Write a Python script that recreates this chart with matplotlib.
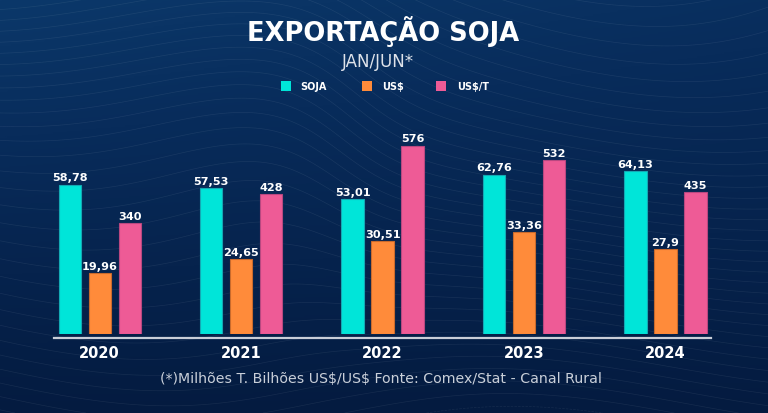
import numpy as np
import matplotlib
matplotlib.use("Agg")
import matplotlib.pyplot as plt
from matplotlib.colors import LinearSegmentedColormap
from matplotlib.lines import Line2D
from matplotlib.patches import Rectangle

# ---- data ----
years = ["2020", "2021", "2022", "2023", "2024"]
soja = [58.78, 57.53, 53.01, 62.76, 64.13]          # milhões t
usd = [19.96, 24.65, 30.51, 33.36, 27.9]            # bilhões US$
usd_t = [340, 428, 576, 532, 435]                   # US$/t
soja_lbl = ["58,78", "57,53", "53,01", "62,76", "64,13"]
usd_lbl = ["19,96", "24,65", "30,51", "33,36", "27,9"]
usdt_lbl = ["340", "428", "576", "532", "435"]
series_names = ["SOJA", "US\\$", "US\\$/T"]

C_SOJA = "#00e5d9"
C_USD = "#ff8b3a"
C_USDT = "#ee5b96"
E_SOJA = "#14a9b4"
E_USD = "#c96a2c"
E_USDT = "#b84880"
FONT = "DejaVu Sans"

W, H = 768, 414
fig = plt.figure(figsize=(W / 100, H / 100), dpi=100)

def fy(px):
    return 1 - px / H

def fx(px):
    return px / W

# ---- background ----
bg = fig.add_axes([0, 0, 1, 1], zorder=0)
bg.set_axis_off()
yy, xx = np.mgrid[0:1:300j, 0:1:500j]
shade = 0.6 * yy + 0.15 * xx * (1 - yy)
cmap = LinearSegmentedColormap.from_list("bgc", ["#0b386a", "#082c5b", "#06234d", "#041b40"])
bg.imshow(shade, cmap=cmap, extent=[0, 1, 0, 1], origin="upper", aspect="auto")
gx, gy = np.meshgrid(np.linspace(0, 1, 400), np.linspace(0, 1, 300))
z = gy * 6 + 0.9 * np.tanh((gx - 0.45) * 10) * np.exp(-((gy - 0.7) ** 2) * 6) \
    + 0.35 * np.sin(gx * 7.0 + gy * 2.0)
bg.contour(gx, gy, z, levels=40, colors="white", linewidths=0.5, alpha=0.07)
bg.set_xlim(0, 1)
bg.set_ylim(0, 1)

# ---- bars ----
bar_bottom_px, bar_top_px = 335, 100
pos = [0, fy(bar_bottom_px), 1, (bar_bottom_px - bar_top_px) / H]
ax1 = fig.add_axes(pos, zorder=2)
ax2 = ax1.twinx()
ax3 = ax1.twinx()

x = np.arange(len(years))
off = 0.212
bw = 0.158
specs = [
    (ax1, soja, soja_lbl, -off, C_SOJA, E_SOJA, 92.5),
    (ax2, usd, usd_lbl, 0.0, C_USD, E_USD, 77.0),
    (ax3, usd_t, usdt_lbl, off, C_USDT, E_USDT, 718.7),
]
for ax, vals, lbls, o, c, e, ymax in specs:
    bars = ax.bar(x + o, vals, width=bw, color=c, edgecolor=e, linewidth=0.8)
    ax.set_ylim(0, ymax)
    ax.set_xlim(-0.705, 4.725)
    ax.set_axis_off()
    for b, l in zip(bars, lbls):
        ax.annotate(l, (b.get_x() + b.get_width() / 2, b.get_height()),
                    xytext=(0, 1.6), textcoords="offset points",
                    ha="center", va="bottom", color="white",
                    fontsize=8.1, fontweight="bold", family=FONT)
ax1.patch.set_alpha(0)

# baseline
fig.add_artist(Line2D([fx(54), fx(711)], [fy(338.5), fy(338.5)],
                      color="#c9ced8", linewidth=1.6, zorder=3))

# year labels
for i, yr in enumerate(years):
    ax1.annotate(yr, (x[i], 0), xycoords=("data", "axes fraction"),
                 xytext=(0, -13.5), textcoords="offset points",
                 ha="center", va="center", color="white",
                 fontsize=10.5, fontweight="bold", family=FONT)

# ---- titles ----
fig.text(fx(383), fy(32), "EXPORTAÇÃO SOJA", ha="center", va="center",
         color="white", fontsize=18.5, fontweight="bold", family=FONT)
fig.text(fx(378), fy(62), "JAN/JUN*", ha="center", va="center",
         color="#dfe3ea", fontsize=12, fontweight="normal", family=FONT)

# ---- legend ----
leg = [(281, C_SOJA, 300), (362, C_USD, 382), (436, C_USDT, 457)]
for (sx, c, tx), name in zip(leg, series_names):
    fig.add_artist(Rectangle((fx(sx), fy(91.5)), 10 / W, 10 / H,
                             facecolor=c, edgecolor="none", transform=fig.transFigure))
    fig.text(fx(tx), fy(86.8), name, ha="left", va="center", color="white",
             fontsize=7, fontweight="bold", family=FONT)

# ---- footnote ----
fig.text(fx(381), fy(379), "(*)Milhões T. Bilhões US\\$/US\\$ Fonte: Comex/Stat - Canal Rural",
         ha="center", va="center", color="#c9cfd9", fontsize=10.2, family=FONT)

fig.savefig("out.png", dpi=100)
